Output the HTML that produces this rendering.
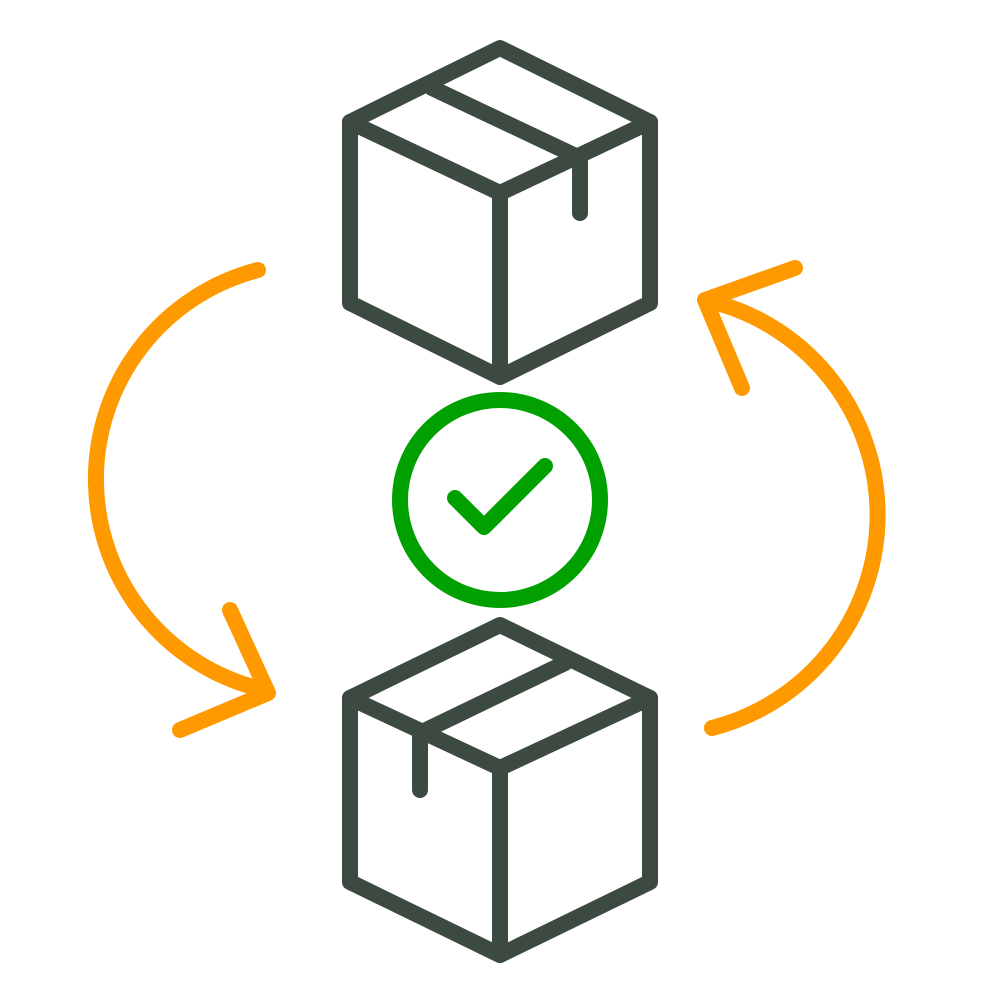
<!DOCTYPE html>
<html><head><meta charset="utf-8"><style>html,body{margin:0;padding:0;background:#fff}svg{display:block}</style></head>
<body>
<svg width="1000" height="1000" viewBox="0 0 1000 1000" xmlns="http://www.w3.org/2000/svg">
<g fill="none" stroke="#3d4a42" stroke-width="16" stroke-linecap="round" stroke-linejoin="round">
  <path d="M500,48 L650,122 L650,303 L500,377 L350,303 L350,122 Z"/>
  <path d="M350,122 L500,193 L650,122 M500,193 L500,377"/>
  <path d="M432,88 L580,158 L580,213"/>
  <path d="M500,625 L650,698 L650,882 L500,955 L350,882 L350,698 Z"/>
  <path d="M350,698 L500,768 L650,698 M500,768 L500,955"/>
  <path d="M565,663 L420,733 L420,790"/>
</g>
<g fill="none" stroke="#00a000" stroke-width="16" stroke-linecap="round" stroke-linejoin="round">
  <circle cx="500" cy="500" r="100"/>
  <path d="M455,498 L484,527 L545,466"/>
</g>
<g fill="none" stroke="#ff9900" stroke-width="16" stroke-linecap="round" stroke-linejoin="round">
  <path d="M258,270 A216,216 0 0 0 265,690"/>
  <path d="M230,610 L268,693 L180,730"/>
  <path d="M712,728 A220,220 0 0 0 705,300"/>
  <path d="M795,268 L705,300 L742,388"/>
</g>
</svg>
</body></html>
